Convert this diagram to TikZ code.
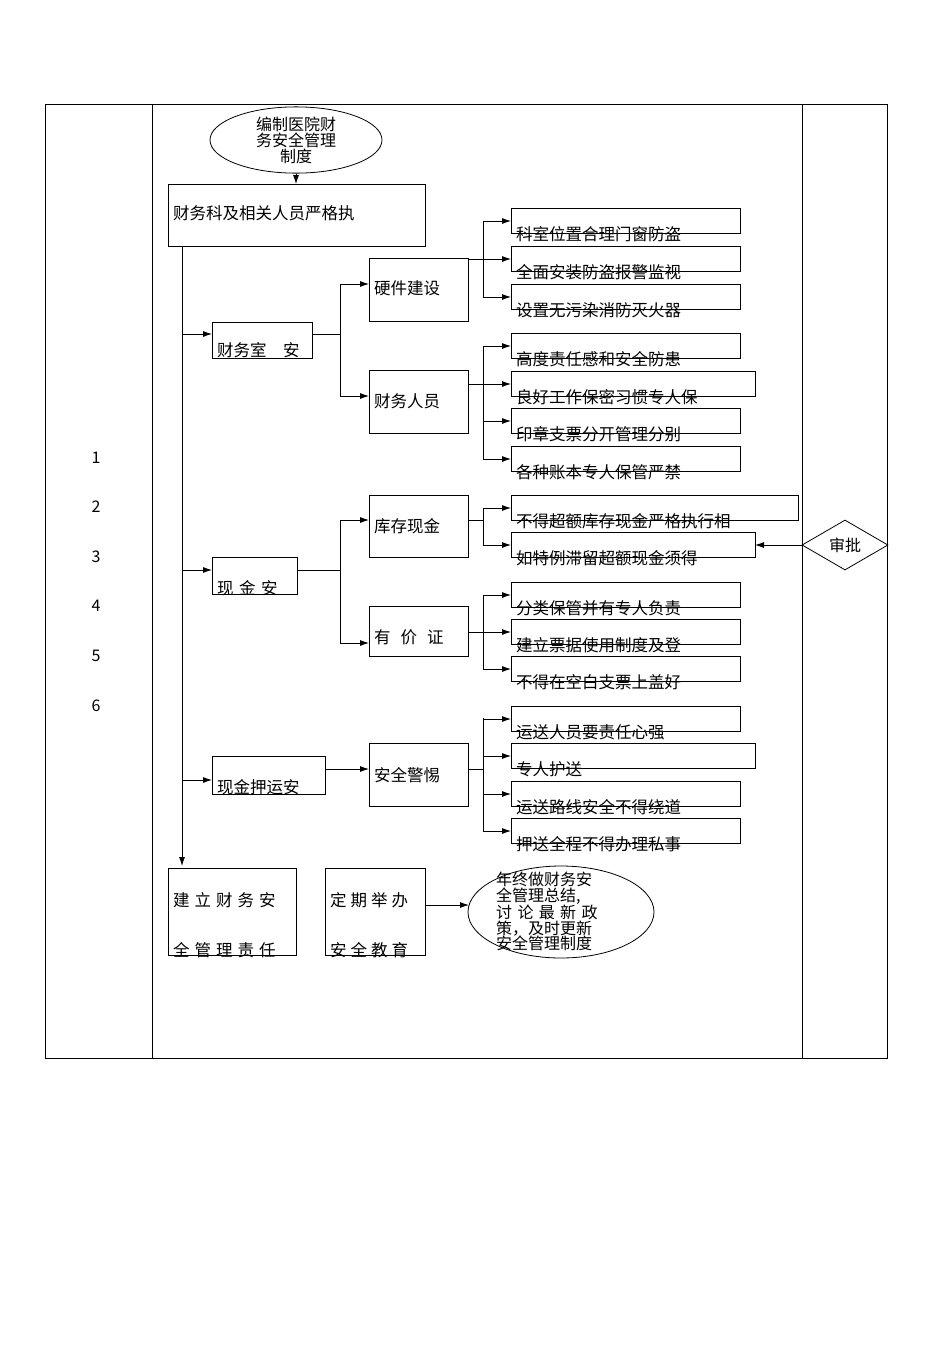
\documentclass[tikz,border=0pt]{standalone}
\usepackage{fontspec}
\setmainfont{Noto Sans CJK SC}
\usetikzlibrary{shapes.geometric,arrows.meta}
\begin{document}
\begin{tikzpicture}[x=1pt,y=-1pt,
 bx/.style={draw,thick},
 tx/.style={anchor=west,font=\fontsize{16.5}{18}\selectfont,inner sep=0pt},
 ar/.style={-{Latex[length=9pt,width=6pt]},thick},
 ln/.style={thick}]
\useasboundingbox (0,0) rectangle (950,1345);
\draw[thick] (45,104) rectangle (887,1058);
\draw[thick] (152,104) -- (152,1058) (802,104) -- (802,1058);
\foreach \n/\y in {1/458,2/507,3/557,4/606,5/656,6/706}
  \node[font=\fontsize{16}{17}\selectfont] (num\n) at (96,\y) {\n};
% top
\node[draw,thick,ellipse,minimum width=172,minimum height=60,align=center,inner sep=0pt,font=\fontsize{16}{16}\selectfont] (e1) at (296,140) {编制医院财\\务安全管理\\制度};
\draw[bx] (168,184) rectangle (425,246);
\coordinate (b1t) at (296,184);
\node[tx] (b1) at (173,213) {财务科及相关人员严格执};
\draw[ar] (e1) -- (b1t);
\coordinate (ms) at (182,246); \coordinate (me) at (182,866);
\draw[ar] (ms) -- (me);
% level 1 boxes
\draw[bx] (212,322) rectangle (312,358); \node[tx] (a1) at (217,350) {财务室\quad 安};
\draw[bx] (212,557) rectangle (297,594); \node[tx] (a2) at (217,588) {现\,\,金\,\,安};
\draw[bx] (212,756) rectangle (325,794); \node[tx] (a3) at (217,787) {现金押运安};
\coordinate (a1l) at (212,334); \coordinate (a2l) at (212,570); \coordinate (a3l) at (212,780);
\draw[ar] (182,334) -- (a1l); \draw[ar] (182,570) -- (a2l); \draw[ar] (182,780) -- (a3l);
% level 2
\draw[bx] (369,258) rectangle (468,321); \node[tx] (c1) at (374,288) {硬件建设};
\draw[bx] (369,370) rectangle (468,433); \node[tx] (c2) at (374,401) {财务人员};
\draw[bx] (369,495) rectangle (468,557); \node[tx] (c3) at (374,526) {库存现金};
\draw[bx] (369,606) rectangle (468,656); \node[tx] (c4) at (374,637) {有\hspace{10pt}价\hspace{10pt}证};
\draw[bx] (369,743) rectangle (468,806); \node[tx] (c5) at (374,775) {安全警惕};
\draw[ln] (312,334) -- (340,334) (340,284) -- (340,396);
\draw[ar] (340,284) -- (369,284); \draw[ar] (340,396) -- (369,396);
\draw[ln] (297,570) -- (340,570) (340,520) -- (340,643);
\draw[ar] (340,520) -- (369,520); \draw[ar] (340,643) -- (369,643);
\draw[ar] (325,769) -- (369,769);
% level 3
\newcommand{\leaf}[4]{\draw[bx] (511,#1) rectangle (#2,#1+25);
  \node[tx] (l#4) at (516,#1+26) {#3}; \draw[ar] (483,#1+13) -- (511,#1+13);}
\draw[ln] (468,259) -- (483,259) (483,221) -- (483,297);
\leaf{208}{740}{科室位置合理门窗防盗}{1}
\leaf{246}{740}{全面安装防盗报警监视}{2}
\leaf{284}{740}{设置无污染消防灭火器}{3}
\draw[ln] (468,384) -- (483,384) (483,346) -- (483,459);
\leaf{333}{740}{高度责任感和安全防患}{4}
\leaf{371}{755}{良好工作保密习惯专人保}{5}
\leaf{408}{740}{印章支票分开管理分别}{6}
\leaf{446}{740}{各种账本专人保管严禁}{7}
\draw[ln] (468,520) -- (483,520) (483,508) -- (483,545);
\leaf{495}{798}{不得超额库存现金严格执行相}{8}
\leaf{532}{755}{如特例滞留超额现金须得}{9}
\draw[ln] (468,632) -- (483,632) (483,595) -- (483,669);
\leaf{582}{740}{分类保管并有专人负责}{10}
\leaf{619}{740}{建立票据使用制度及登}{11}
\leaf{656}{740}{不得在空白支票上盖好}{12}
\draw[ln] (468,769) -- (483,769) (483,718) -- (483,831);
\leaf{706}{740}{运送人员要责任心强}{13}
\leaf{743}{755}{专人护送}{14}
\leaf{781}{740}{运送路线安全不得绕道}{15}
\leaf{818}{740}{押送全程不得办理私事}{16}
% diamond
\node[draw,thick,diamond,aspect=1.7,minimum width=86,minimum height=50,inner sep=0pt,font=\fontsize{16}{17}\selectfont] (sp) at (845,545) {审批};
\coordinate (l9r) at (755,545);
\draw[ar] (sp.west) -- (l9r);
% bottom
\draw[bx] (168,868) rectangle (296,955);
\node[tx] (d1) at (173,900) {建\hspace{5pt}立\hspace{5pt}财\hspace{5pt}务\hspace{5pt}安};
\node[tx] (d1b) at (173,950) {全\hspace{5pt}管\hspace{5pt}理\hspace{5pt}责\hspace{5pt}任};
\draw[bx] (325,868) rectangle (425,955);
\node[tx] (d2) at (330,900) {定\hspace{4pt}期\hspace{4pt}举\hspace{4pt}办};
\node[tx] (d2b) at (330,950) {安\hspace{4pt}全\hspace{4pt}教\hspace{4pt}育};
\node[draw,thick,ellipse,minimum width=186,minimum height=92] (e2) at (561,912) {};
\node[font=\fontsize{16}{15.5}\selectfont,align=left,anchor=north west,inner sep=0pt] (e2t) at (496,872) {年终做财务安\\全管理总结,\\讨\,\,论\,\,最\,\,新\,\,政\\策，及时更新\\安全管理制度};
\coordinate (d2r) at (425,905);
\coordinate (e2w) at (469,905);
\draw[ar] (d2r) -- (e2w);
\end{tikzpicture}
\end{document}
